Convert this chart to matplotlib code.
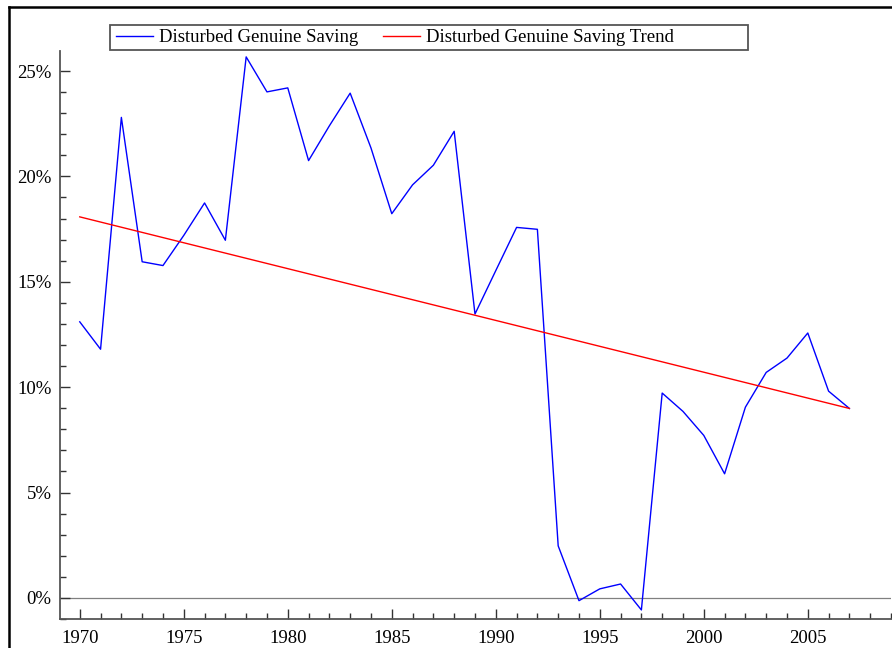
import matplotlib
matplotlib.use("Agg")
import matplotlib.pyplot as plt
from matplotlib.lines import Line2D
from matplotlib.patches import Rectangle
from matplotlib.ticker import MultipleLocator, FuncFormatter

years = list(range(1970, 2008))
saving = [13.1, 11.8, 22.8, 15.95, 15.77, 17.2, 18.74, 16.97, 25.67, 24.01,
          24.2, 20.75, 22.4, 23.95, 21.35, 18.23, 19.6, 20.53, 22.14, 13.47,
          15.53, 17.58, 17.49, 2.47, -0.13, 0.43, 0.66, -0.57, 9.72, 8.85,
          7.71, 5.89, 9.05, 10.7, 11.38, 12.57, 9.81, 8.99]
trend_years = [1970, 2007]
trend_values = [18.08, 8.99]
labels = ["Disturbed Genuine Saving", "Disturbed Genuine Saving Trend"]

plt.rcParams['font.family'] = ['Liberation Serif', 'DejaVu Serif']

W, H = 892, 648
fig = plt.figure(figsize=(W / 100, H / 100), dpi=100)
ax = fig.add_axes([60 / W, 1 - 619 / H, (891 - 60) / W, (619 - 51) / H])

l1, = ax.plot(years, saving, color='#0000ff', lw=1.0)
l2, = ax.plot(trend_years, trend_values, color='#ff0000', lw=1.0)
ax.axhline(0, color='#808080', lw=0.9, zorder=0)

ax.set_xlim(1969.05, 2009)
ax.set_ylim(-1.0, 25.95)
ax.xaxis.set_major_locator(MultipleLocator(5))
ax.xaxis.set_minor_locator(MultipleLocator(1))
ax.yaxis.set_major_locator(MultipleLocator(5))
ax.yaxis.set_minor_locator(MultipleLocator(1))
ax.yaxis.set_major_formatter(FuncFormatter(lambda v, p: f"{v:.0f}%"))

for s in ['top', 'right']:
    ax.spines[s].set_visible(False)
for s in ['left', 'bottom']:
    ax.spines[s].set_color('#555555')
    ax.spines[s].set_linewidth(1.3)

ax.tick_params(which='both', direction='in', color='#333333', width=1.0,
               labelsize=13.5, labelcolor='black')
ax.tick_params(which='major', length=7)
ax.tick_params(which='minor', length=4)
ax.tick_params(axis='x', which='major', pad=8)
ax.tick_params(axis='y', which='major', pad=6)

leg = fig.legend([l1, l2], labels, loc='center left', ncol=2,
                 bbox_to_anchor=(112 / W, 1 - 37.5 / H), frameon=False,
                 fontsize=13.5, handlelength=2.0, handletextpad=0.32,
                 columnspacing=1.28, borderaxespad=0, borderpad=0.2)
fig.add_artist(Rectangle((110 / W, 1 - 50 / H), (748 - 110) / W, 25 / H,
                         transform=fig.transFigure, fill=False,
                         edgecolor='#555555', lw=1.3))

fig.add_artist(Line2D([9 / W, 1.0], [1 - 7 / H, 1 - 7 / H],
                      transform=fig.transFigure, color='black', lw=1.8))
fig.add_artist(Line2D([9 / W, 9 / W], [0.0, 1 - 7 / H],
                      transform=fig.transFigure, color='black', lw=1.8))

fig.savefig("out.png", dpi=100)
